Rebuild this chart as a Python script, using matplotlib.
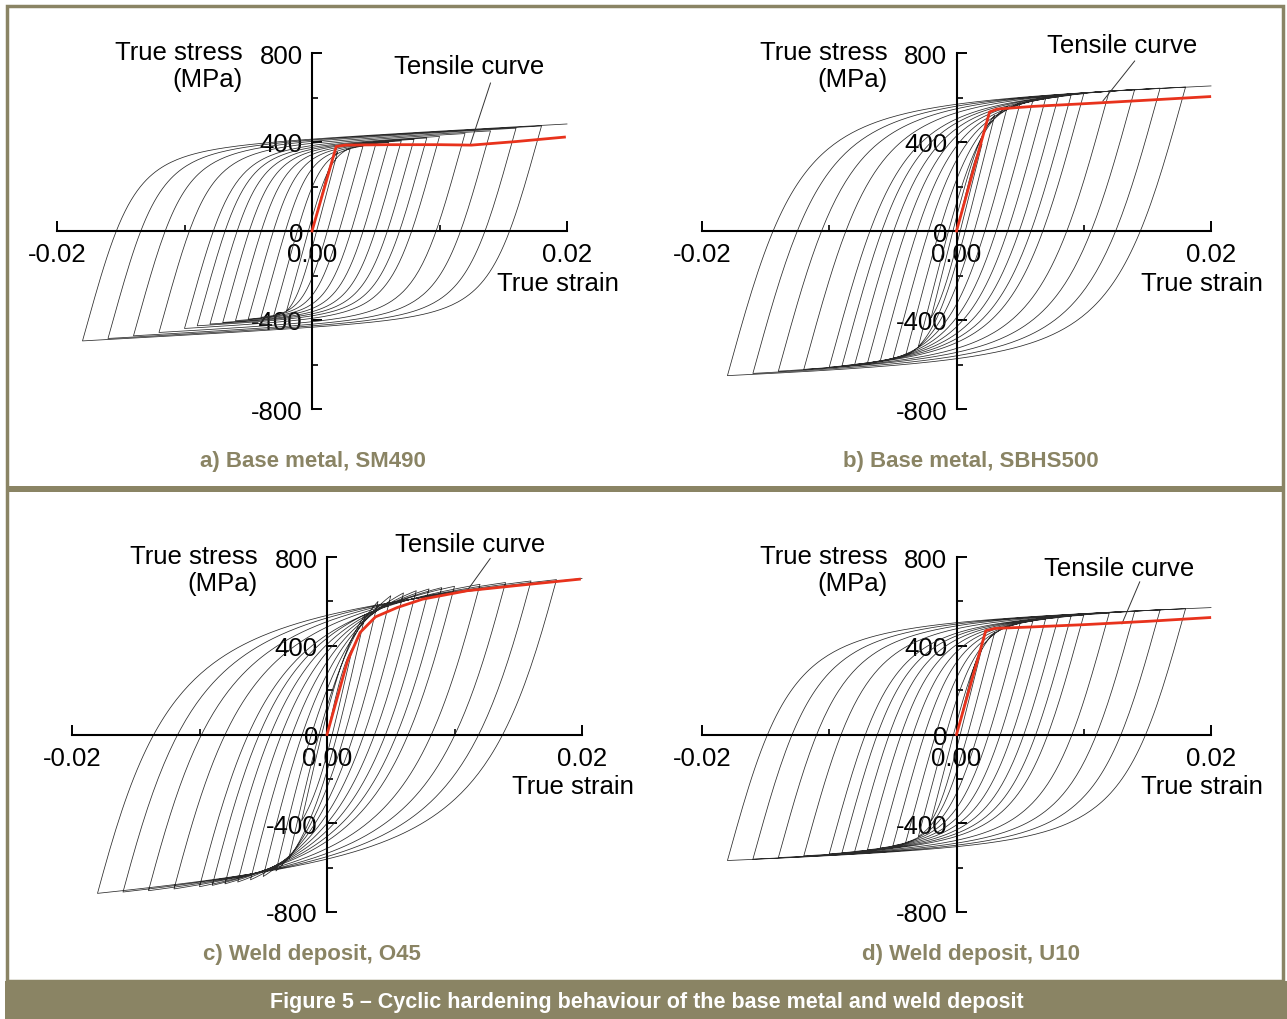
import numpy as np
import matplotlib
matplotlib.use('Agg')
import matplotlib.pyplot as plt
from matplotlib import font_manager
from matplotlib.patches import Rectangle

plt.rcParams['font.family'] = ['Liberation Sans', 'DejaVu Sans']
plt.rcParams['axes.unicode_minus'] = False

# ---- data -------------------------------------------------------------------
# strain amplitude of each cycle (tension peak +a, then compression peak -a)
amplitudes = [0.002, 0.003, 0.004, 0.005, 0.006, 0.007, 0.008, 0.009, 0.010,
              0.012, 0.014, 0.016, 0.018, 0.020]

# peak stresses (MPa); the last cycle stops at the tension peak
sm490_tens = [355, 372, 382, 390, 398, 405, 412, 418, 425, 438, 450, 462, 472, 481]
sm490_comp = [-360, -380, -388, -396, -403, -411, -418, -426, -438, -456, -471, -483, -494]
sbhs500_tens = [390, 520, 560, 575, 586, 595, 603, 610, 617, 628, 636, 642, 647, 652]
sbhs500_comp = [-390, -520, -560, -575, -586, -594, -600, -606, -612, -622, -630, -640, -650]
o45_tens = [390, 540, 600, 625, 638, 648, 656, 662, 668, 677, 685, 692, 698, 703]
o45_comp = [-390, -560, -615, -640, -655, -665, -673, -680, -686, -696, -704, -710, -716]
u10_tens = [390, 460, 488, 502, 512, 520, 527, 533, 538, 547, 555, 562, 567, 572]
u10_comp = [-390, -460, -488, -502, -512, -520, -527, -533, -538, -547, -555, -562, -568]

# monotonic tensile curves (red)
sm490_tensile_strain = [0, 0.0019, 0.0026, 0.006, 0.010, 0.0125, 0.016, 0.0198]
sm490_tensile_stress = [0, 380, 386, 388, 388, 386, 402, 422]
sbhs500_tensile_strain = [0, 0.0026, 0.0032, 0.006, 0.010, 0.015, 0.0199]
sbhs500_tensile_stress = [0, 535, 548, 560, 572, 588, 604]
o45_tensile_strain = [0, 0.0016, 0.0026, 0.0038, 0.0055, 0.0075, 0.0110, 0.0150, 0.0198]
o45_tensile_stress = [0, 330, 460, 530, 572, 610, 648, 672, 700]
u10_tensile_strain = [0, 0.0023, 0.0030, 0.006, 0.010, 0.015, 0.0199]
u10_tensile_stress = [0, 468, 478, 485, 495, 510, 527]

captions = ['a) Base metal, SM490', 'b) Base metal, SBHS500',
            'c) Weld deposit, O45', 'd) Weld deposit, U10']

E = 205000.0   # MPa
OLIVE = '#8a8464'
W, H = 1287, 1020

# condensed bold face for captions if available
names = {f.name for f in font_manager.fontManager.ttflist}
if 'Liberation Sans Narrow' in names:
    cap_font, cap_size, ban_size = 'Liberation Sans Narrow', 18.5, 17.8
else:
    cap_font, cap_size, ban_size = 'Liberation Sans', 16, 15.5


def branch(er, sr, et, st, b, R, n=160):
    """Menegotto-Pinto branch from reversal (er, sr) to target (et, st)."""
    e0 = (st - sr + E * er - b * E * et) / (E * (1 - b))
    eps = np.linspace(er, et, n)
    xs = (eps - er) / (e0 - er)
    ys = b * xs + (1 - b) * xs / (1 + np.abs(xs) ** R) ** (1 / R)
    ys = ys / ys[-1]
    return eps, sr + ys * (st - sr)


def hysteresis(tens, comp, b, r_small, r_large):
    es, ss = [], []
    er, sr = 0.0, 0.0
    for i, a in enumerate(amplitudes):
        targets = [(a, tens[i])]
        if i < len(comp):
            targets.append((-a, comp[i]))
        for et, st in targets:
            de = abs(et - er)
            R = r_large + (r_small - r_large) * min(1.0, 0.004 / de)
            e, s = branch(er, sr, et, st, b, R)
            es.append(e)
            ss.append(s)
            er, sr = et, st
    return np.concatenate(es), np.concatenate(ss)


fig = plt.figure(figsize=(W / 100, H / 100), dpi=100)


def fbox(x0, x1, ytop, ybot):
    return [x0 / W, 1 - ybot / H, (x1 - x0) / W, (ybot - ytop) / H]


# frame, separator and banner
fig.patches.append(Rectangle((7 / W, 1 - 982 / H), 1276 / W, 975 / H, transform=fig.transFigure,
                             fill=False, ec=OLIVE, lw=2.5))
fig.patches.append(Rectangle((7 / W, 1 - 493 / H), 1276 / W, 6 / H, transform=fig.transFigure,
                             fc=OLIVE, ec='none'))
fig.patches.append(Rectangle((5 / W, 0), 1282 / W, 38 / H, transform=fig.transFigure,
                             fc=OLIVE, ec='none'))
fig.text(647 / W, 1 - 1003 / H,
         'Figure 5 \u2013 Cyclic hardening behaviour of the base metal and weld deposit',
         color='white', fontsize=ban_size, fontweight='bold', family=cap_font,
         ha='center', va='center')

panels = [
    (fbox(57, 567, 54, 410), sm490_tens, sm490_comp, sm490_tensile_strain, sm490_tensile_stress,
     0.015, 6.0, 2.2, (0.0123, 740), (0.0140, 665), (0.0124, 386), (313, 462)),
    (fbox(702, 1211, 54, 410), sbhs500_tens, sbhs500_comp, sbhs500_tensile_strain, sbhs500_tensile_stress,
     0.01, 5.0, 1.8, (0.0130, 836), (0.0140, 764), (0.0115, 584), (971, 462)),
    (fbox(72, 582, 558, 913), o45_tens, o45_comp, o45_tensile_strain, o45_tensile_stress,
     0.02, 3.0, 1.5, (0.0112, 858), (0.0128, 793), (0.0110, 649), (312, 955)),
    (fbox(702, 1211, 558, 913), u10_tens, u10_comp, u10_tensile_strain, u10_tensile_stress,
     0.01, 5.0, 1.8, (0.0128, 751), (0.0144, 688), (0.0130, 499), (971, 955)),
]

for k, (box, tens, comp, ts, tss, b, r_small, r_large, txt, l0, l1, cap) in enumerate(panels):
    ax = fig.add_axes(box)
    ax.set_xlim(-0.02, 0.02)
    ax.set_ylim(-800, 800)
    ax.patch.set_alpha(0)
    e, s = hysteresis(tens, comp, b, r_small, r_large)
    ax.plot(e, s, color='#2a2a2a', lw=0.55, clip_on=False)
    ax.plot(ts, tss, color='#e8321c', lw=2.0, clip_on=False, zorder=3)

    for side in ['top', 'right']:
        ax.spines[side].set_visible(False)
    ax.spines['left'].set_position(('data', 0))
    ax.spines['bottom'].set_position(('data', 0))
    for side in ['left', 'bottom']:
        ax.spines[side].set_linewidth(1.5)
    ax.set_xticks([-0.02, 0, 0.02])
    ax.set_xticklabels(['-0.02', '0.00', '0.02'])
    ax.set_xticks([-0.01, 0.01], minor=True)
    ax.set_yticks([-800, -400, 0, 400, 800])
    ax.set_yticks([-600, -200, 200, 600], minor=True)
    ax.tick_params(which='major', direction='in', length=7, width=1.4, labelsize=18.5)
    ax.tick_params(which='minor', direction='in', length=4, width=1.2)
    ax.tick_params(axis='y', pad=6.5)
    ax.tick_params(axis='x', pad=8)

    ax.annotate('True stress\n(MPa)', xy=(0, 800), xytext=(-69 * 0.72, 9),
                textcoords='offset points', ha='right', va='top', fontsize=18.5,
                multialignment='right', linespacing=1.12)
    ax.annotate('True strain', xy=(0.02, 0), xytext=(52 * 0.72, -52 * 0.72),
                textcoords='offset points', ha='right', va='center', fontsize=18.5)
    ax.text(txt[0], txt[1], 'Tensile curve', ha='center', va='center', fontsize=18.5)
    ax.plot([l0[0], l1[0]], [l0[1], l1[1]], color='#333333', lw=0.7, clip_on=False)

    fig.text(cap[0] / W, 1 - cap[1] / H, captions[k], color=OLIVE, fontsize=cap_size,
             fontweight='bold', family=cap_font, ha='center', va='center')

fig.savefig('out.png', dpi=100)
